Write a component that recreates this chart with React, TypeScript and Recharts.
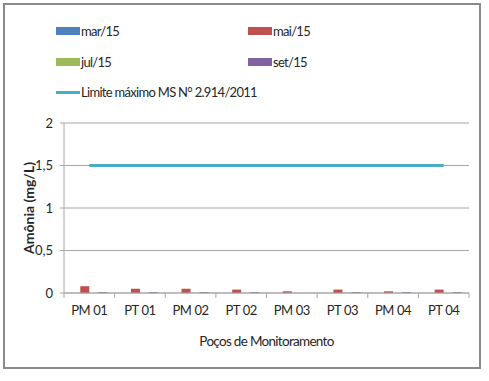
import React from 'react';
import { ComposedChart, Bar, Line, XAxis, YAxis, CartesianGrid } from 'recharts';

const categories = ['PM 01', 'PT 01', 'PM 02', 'PT 02', 'PM 03', 'PT 03', 'PM 04', 'PT 04'];
const mar15 = [0, 0, 0, 0, 0, 0, 0, 0];
const mai15 = [0.08, 0.05, 0.05, 0.04, 0.02, 0.04, 0.02, 0.04];
const jul15 = [0, 0, 0, 0, 0, 0, 0, 0];
const set15 = [0.01, 0.01, 0.01, 0.01, 0, 0.01, 0.01, 0.01];
const limite = [1.5, 1.5, 1.5, 1.5, 1.5, 1.5, 1.5, 1.5];
const yTicks = [0, 0.5, 1, 1.5, 2];

const data = categories.map((c, i) => ({
  name: c,
  mar: mar15[i],
  mai: mai15[i],
  jul: jul15[i],
  set: set15[i],
  limite: limite[i],
}));

const FONT = 'Lato, "Liberation Sans", sans-serif';
const GRID = '#a6a6a6';
const TXT = '#262626';

const XTick = (props: any) => {
  const { x, y, payload, index } = props;
  const half = payload && payload.offset ? payload.offset : 25.3;
  const last = index === categories.length - 1;
  return (
    <g>
      <line x1={x - half} x2={x - half} y1={y - 8} y2={y - 3} stroke={GRID} strokeWidth={1} />
      {last && <line x1={x + half} x2={x + half} y1={y - 8} y2={y - 3} stroke={GRID} strokeWidth={1} />}
      <text x={x} y={y + 14} textAnchor="middle" fontSize={13} fontFamily={FONT} fill={TXT} letterSpacing={-0.4}>
        {payload.value}
      </text>
    </g>
  );
};

const YLabel = (props: any) => {
  const vb = props.viewBox || { x: 4, y: 123, width: 60, height: 170 };
  const cx = vb.x + 24;
  const cy = vb.y + vb.height / 2;
  return (
    <text
      x={cx}
      y={cy}
      transform={`rotate(-90, ${cx}, ${cy})`}
      textAnchor="middle"
      dominantBaseline="central"
      fontSize={14}
      fontWeight="bold"
      fontFamily={FONT}
      fill={TXT}
    >
      Amônia (mg/L)
    </text>
  );
};

const legendItems = [
  { label: 'mar/15', color: '#4F81BD', type: 'rect', left: 56, top: 31 },
  { label: 'mai/15', color: '#C0504D', type: 'rect', left: 248, top: 31 },
  { label: 'jul/15', color: '#9BBB59', type: 'rect', left: 56, top: 62 },
  { label: 'set/15', color: '#8064A2', type: 'rect', left: 248, top: 62 },
  { label: 'Limite máximo MS N° 2.914/2011', color: '#4BACC6', type: 'line', left: 56, top: 92 },
];

export default function App() {
  return (
    <div style={{ position: 'absolute', left: 0, top: 0, width: 489, height: 381, background: '#fff' }}>
      <div
        style={{
          position: 'absolute',
          left: 3,
          top: 3,
          width: 478,
          height: 366,
          border: '2px solid #8a8a8a',
          boxSizing: 'border-box',
        }}
      />
      {legendItems.map((it) => (
        <div
          key={it.label}
          style={{
            position: 'absolute',
            left: it.left,
            top: it.top - 10,
            height: 20,
            display: 'flex',
            alignItems: 'center',
            fontFamily: FONT,
            fontSize: 13,
            letterSpacing: -0.7,
            color: TXT,
            whiteSpace: 'nowrap',
          }}
        >
          <div
            style={{
              width: 24,
              height: it.type === 'rect' ? 8 : 3,
              background: it.color,
              marginRight: 1,
            }}
          />
          <span>{it.label}</span>
        </div>
      ))}
      <div style={{ position: 'absolute', left: 0, top: 0 }}>
        <ComposedChart
          width={489}
          height={381}
          data={data}
          margin={{ top: 123, right: 20, bottom: 28, left: 4 }}
          barCategoryGap="14.4%"
          barGap={0}
        >
          <CartesianGrid vertical={false} stroke={GRID} strokeWidth={1} />
          <XAxis
            dataKey="name"
            height={60}
            axisLine={{ stroke: GRID }}
            tickLine={false}
            tick={<XTick />}
            interval={0}
            label={{
              value: 'Poços de Monitoramento',
              position: 'insideBottom',
              offset: 7,
              fontSize: 13.5,
              letterSpacing: -0.7,
              fontFamily: FONT,
              fill: TXT,
            }}
          />
          <YAxis
            width={60}
            domain={[0, 2]}
            ticks={yTicks}
            interval={0}
            axisLine={{ stroke: GRID }}
            tickLine={{ stroke: GRID }}
            tickSize={4}
            tickMargin={7}
            tick={{ fontSize: 13, fontFamily: FONT, fill: TXT }}
            tickFormatter={(v: number) => String(v).replace('.', ',')}
            label={<YLabel />}
          />
          <Bar dataKey="mar" fill="#4F81BD" isAnimationActive={false} />
          <Bar dataKey="mai" fill="#C0504D" isAnimationActive={false} />
          <Bar dataKey="jul" fill="#9BBB59" isAnimationActive={false} />
          <Bar dataKey="set" fill="#8064A2" isAnimationActive={false} />
          <Line
            dataKey="limite"
            stroke="#4BACC6"
            strokeWidth={3}
            dot={false}
            activeDot={false}
            isAnimationActive={false}
          />
        </ComposedChart>
      </div>
    </div>
  );
}
